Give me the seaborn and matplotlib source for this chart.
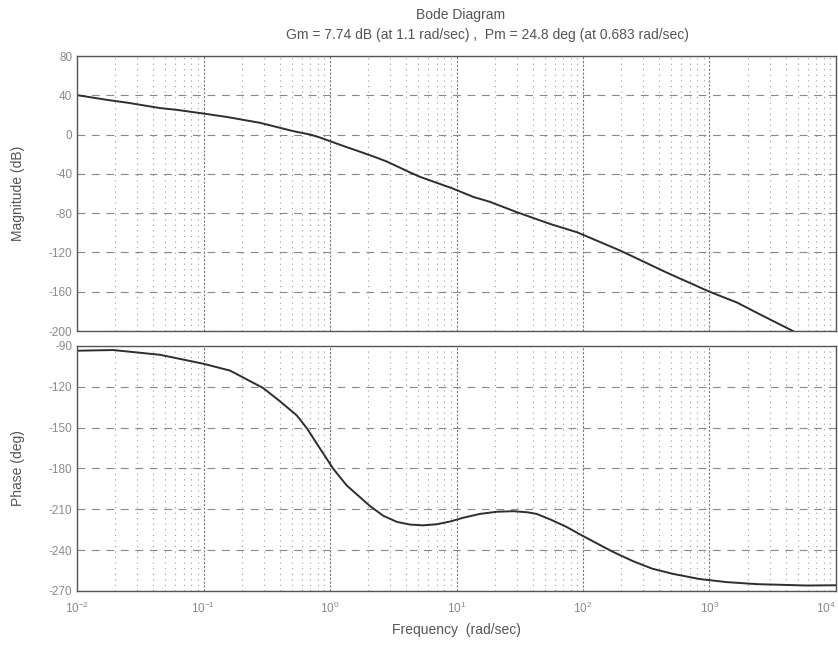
import numpy as np
import pandas as pd
import matplotlib
matplotlib.use("Agg")
import matplotlib.pyplot as plt
import seaborn as sns
from matplotlib.ticker import LogLocator, FixedLocator, NullFormatter

# magnitude
mag_freq = [0.01, 0.0182, 0.0247, 0.0453, 0.0614, 0.099, 0.152, 0.28, 0.513, 0.70,
            0.834, 1.27, 1.73, 2.34, 2.82, 4.29, 5.14, 7.87, 9.38, 13.6,
            18.4, 30, 55, 90, 200, 450, 1000, 1650, 2500, 4900, 10000]
mag_db = [40.2, 34.9, 32.6, 27.0, 25.2, 21.5, 18.0, 12.0, 3.5, 0.0,
          -3.0, -11.5, -17.5, -23.5, -27.5, -38.5, -43.0, -51.5, -55.0, -63.5,
          -68.5, -79.0, -91.0, -99.5, -118.5, -140.0, -160.0, -171.0, -183.0, -202.0, -222.0]

# phase
ph_freq = [0.01, 0.0193, 0.0453, 0.099, 0.162, 0.22, 0.295, 0.403, 0.546, 0.658,
           0.834, 1.06, 1.356, 2.07, 2.64, 3.39, 4.29, 5.43, 6.97, 8.9,
           11.2, 15.3, 20.9, 28.1, 36.3, 43, 55.3, 74.3, 94.5, 128,
           171, 250, 352, 518, 833, 1369, 2385, 5900, 10000]
ph_deg = [-93.5, -93.0, -96.5, -103.0, -108.1, -114.6, -120.8, -130.7, -141.0, -150.6,
          -165.4, -180.2, -192.5, -207.6, -214.8, -219.3, -221.2, -221.8, -221.0, -219.0,
          -216.3, -213.4, -211.8, -211.4, -212.2, -213.4, -217.5, -223.0, -228.4, -234.9,
          -241.1, -248.2, -253.6, -257.5, -261.2, -263.5, -265.0, -266.0, -265.8]

mag_ticks = [80, 40, 0, -40, -80, -120, -160, -200]
ph_ticks = [-90, -120, -150, -180, -210, -240, -270]
freq_ticks = [1e-2, 1e-1, 1e0, 1e1, 1e2, 1e3, 1e4]
freq_labels = ["$10^{-2}$", "$10^{-1}$", "$10^{0}$", "$10^{1}$", "$10^{2}$", "$10^{3}$", "$10^{4}$"]

title1 = "Bode Diagram"
title2 = "Gm = 7.74 dB (at 1.1 rad/sec) ,  Pm = 24.8 deg (at 0.683 rad/sec)"

sns.set_style("white")
plt.rcParams['font.family'] = ['Liberation Sans', 'DejaVu Sans']
plt.rcParams['mathtext.default'] = 'regular'

txt = '#555555'
tick_c = '#8a8a8a'
line_c = '#2e2e2e'

fig = plt.figure(figsize=(8.38, 6.47), dpi=100)
ax1 = fig.add_axes([0.0919, 0.4884, 0.9057, 0.425])
ax2 = fig.add_axes([0.0919, 0.0866, 0.9057, 0.3787])

df_mag = pd.DataFrame({"freq": mag_freq, "mag": mag_db})
df_ph = pd.DataFrame({"freq": ph_freq, "phase": ph_deg})

sns.lineplot(data=df_mag, x="freq", y="mag", ax=ax1, color=line_c, lw=1.4, sort=False)
sns.lineplot(data=df_ph, x="freq", y="phase", ax=ax2, color=line_c, lw=1.4, sort=False)

for ax, ticks in ((ax1, mag_ticks), (ax2, ph_ticks)):
    ax.set_xscale("log")
    ax.set_xlim(1e-2, 1e4)
    ax.set_ylim(min(ticks), max(ticks))
    ax.yaxis.set_major_locator(FixedLocator(ticks))
    ax.set_yticklabels([str(t) for t in ticks])
    ax.xaxis.set_major_locator(FixedLocator(freq_ticks))
    ax.xaxis.set_minor_locator(LogLocator(base=10, subs=np.arange(2, 10), numticks=20))
    ax.xaxis.set_minor_formatter(NullFormatter())
    ax.tick_params(axis='both', which='both', direction='in', colors='#666666',
                   labelcolor=tick_c, labelsize=8.5, length=4)
    ax.tick_params(axis='x', which='minor', length=2.5)
    ax.grid(True, axis='x', which='major', color='#777777', linestyle=(0, (2, 1.5)), lw=0.8)
    ax.grid(True, axis='x', which='minor', color='#999999', linestyle=(0, (1, 4)), lw=0.8)
    ax.grid(True, axis='y', which='major', color='#888888', linestyle=(0, (7, 6)), lw=0.8)
    for s in ax.spines.values():
        s.set_color('#555555')
        s.set_linewidth(1.0)
    ax.set_xlabel("")

ax1.set_xticklabels([])
ax2.set_xticklabels(freq_labels)
ax2.tick_params(axis='x', pad=7)
ax2.get_xticklabels()[-1].set_ha('right')

ax1.set_ylabel("Magnitude (dB)", color=txt, fontsize=10)
ax2.set_ylabel("Phase (deg)", color=txt, fontsize=10)
ax1.yaxis.set_label_coords(-0.068, 0.5)
ax2.yaxis.set_label_coords(-0.068, 0.5)
ax2.set_xlabel("Frequency  (rad/sec)", color=txt, fontsize=10, labelpad=5)

fig.text(0.550, 0.977, title1, ha='center', va='center', color=txt, fontsize=10)
fig.text(0.582, 0.946, title2, ha='center', va='center', color=txt, fontsize=10)

fig.savefig("out.png", dpi=100, facecolor='white')
